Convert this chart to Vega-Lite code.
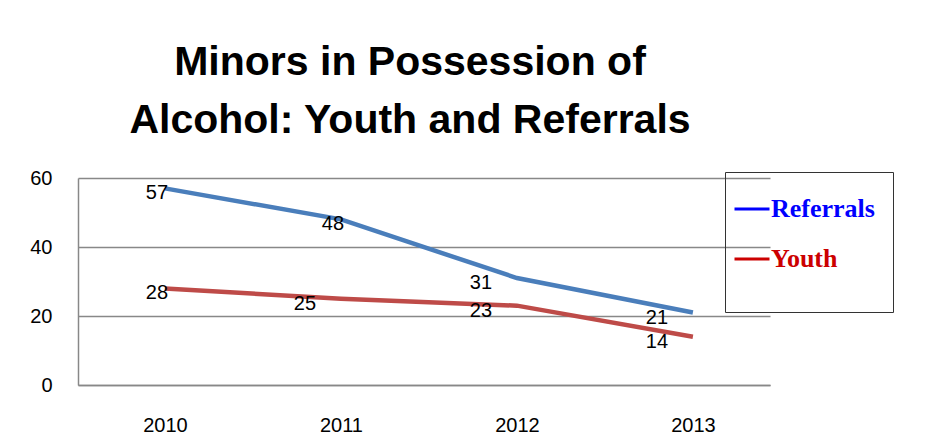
{
  "$schema": "https://vega.github.io/schema/vega-lite/v6.json",
  "width": 692,
  "height": 207,
  "autosize": "none",
  "padding": {"left": 78, "top": 178, "right": 182, "bottom": 63},
  "background": "white",
  "config": {"view": {"stroke": null}, "font": "Liberation Sans"},
  "title": {
    "text": ["Minors in Possession of", "Alcohol:  Youth and Referrals"],
    "font": "Liberation Sans",
    "fontSize": 41,
    "fontWeight": "bold",
    "color": "black",
    "anchor": "middle",
    "offset": 26,
    "lineHeight": 58,
    "dx": -14
  },
  "data": {
    "values": [
      {"year": "2010", "series": "Referrals", "value": 57},
      {"year": "2011", "series": "Referrals", "value": 48},
      {"year": "2012", "series": "Referrals", "value": 31},
      {"year": "2013", "series": "Referrals", "value": 21},
      {"year": "2010", "series": "Youth", "value": 28},
      {"year": "2011", "series": "Youth", "value": 25},
      {"year": "2012", "series": "Youth", "value": 23},
      {"year": "2013", "series": "Youth", "value": 14}
    ]
  },
  "encoding": {
    "x": {
      "field": "year",
      "type": "ordinal",
      "scale": {"type": "point", "padding": 0.466, "align": 0.53},
      "axis": {
        "title": null,
        "labelAngle": 0,
        "ticks": false,
        "grid": false,
        "domainColor": "#888888",
        "domainWidth": 1.5,
        "labelPadding": 30,
        "labelFontSize": 20,
        "labelColor": "black"
      }
    },
    "y": {
      "field": "value",
      "type": "quantitative",
      "scale": {"domain": [0, 60]},
      "axis": {
        "title": null,
        "values": [0, 20, 40, 60],
        "grid": true,
        "gridColor": "#888888",
        "gridWidth": 1.5,
        "domainColor": "#888888",
        "domainWidth": 1.5,
        "ticks": false,
        "labelPadding": 26,
        "labelFontSize": 20,
        "labelColor": "black"
      }
    }
  },
  "layer": [
    {
      "mark": {"type": "line", "strokeWidth": 4.5},
      "encoding": {
        "color": {
          "field": "series",
          "type": "nominal",
          "scale": {"range": ["#4a7ebb", "#be4b48"]},
          "legend": null
        }
      }
    },
    {
      "mark": {"type": "line", "strokeOpacity": 0},
      "encoding": {
        "stroke": {
          "field": "series",
          "type": "nominal",
          "scale": {"domain": ["Referrals", "Youth"], "range": ["#0000ff", "#cc0000"]},
          "legend": {
            "title": "\u00a0",
            "titleOrient": "bottom",
            "titleFontSize": 20,
            "titlePadding": 2,
            "orient": "none",
            "legendX": 647,
            "legendY": -6,
            "strokeColor": "#333333",
            "padding": 18,
            "symbolType": "stroke",
            "symbolSize": 1225,
            "symbolStrokeWidth": 3,
            "symbolOffset": -10,
            "labelOffset": 0,
            "rowPadding": 18,
            "labelFont": "Liberation Serif",
            "labelFontWeight": "bold",
            "labelFontSize": 26,
            "encode": {
              "labels": {"update": {"fill": {"signal": "datum.value === 'Referrals' ? '#0000ff' : '#cc0000'"}}},
              "symbols": {"update": {"strokeOpacity": {"value": 1}}}
            }
          }
        }
      }
    },
    {
      "transform": [{"filter": "datum.year === '2010' || (datum.series === 'Referrals' && datum.year === '2011')"}],
      "mark": {"type": "text", "dx": -8, "dy": 5, "fontSize": 20, "color": "black"},
      "encoding": {"text": {"field": "value", "type": "quantitative"}}
    },
    {
      "transform": [{"filter": "!(datum.year === '2010' || (datum.series === 'Referrals' && datum.year === '2011'))"}],
      "mark": {"type": "text", "dx": -36, "dy": 5, "fontSize": 20, "color": "black"},
      "encoding": {"text": {"field": "value", "type": "quantitative"}}
    }
  ]
}
